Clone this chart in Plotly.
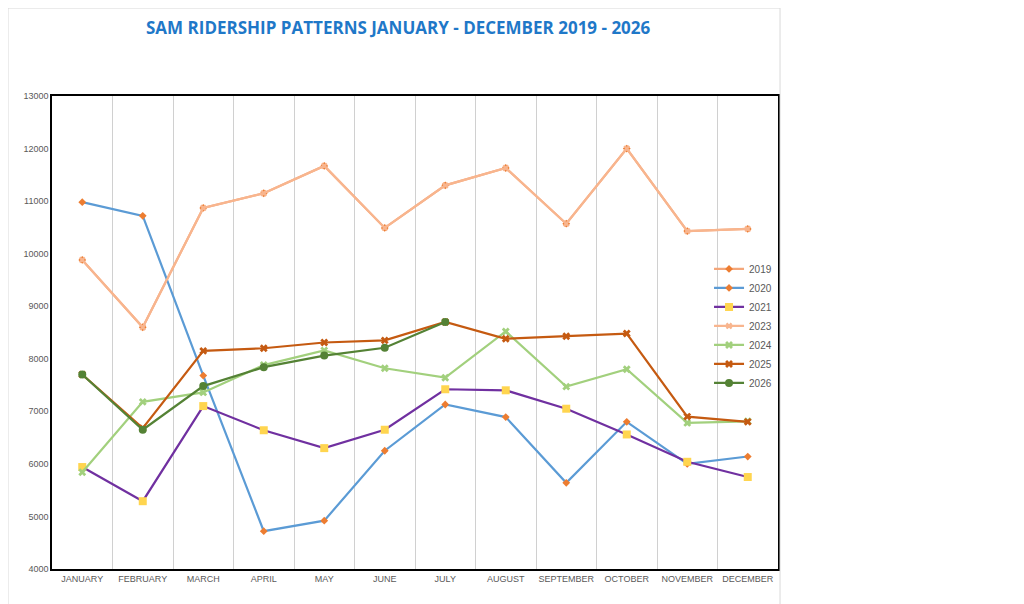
import plotly.graph_objects as go

months = ["JANUARY","FEBRUARY","MARCH","APRIL","MAY","JUNE","JULY","AUGUST","SEPTEMBER","OCTOBER","NOVEMBER","DECEMBER"]
y2019 = [9880, 8600, 10870, 11150, 11670, 10490, 11300, 11630, 10570, 12000, 10430, 10470]
y2020 = [10980, 10720, 7680, 4720, 4920, 6250, 7130, 6890, 5640, 6800, 6000, 6140]
y2021 = [5940, 5290, 7100, 6640, 6300, 6650, 7420, 7400, 7050, 6560, 6040, 5750]
y2023 = y2019
y2024 = [5840, 7180, 7360, 7880, 8160, 7820, 7640, 8520, 7470, 7800, 6780, 6810]
y2025 = [7700, 6680, 8150, 8200, 8310, 8350, 8700, 8380, 8430, 8480, 6900, 6800]
y2026 = [7700, 6650, 7480, 7840, 8060, 8210, 8700]

x = list(range(12))
series = [
    ("2019", y2019, "#F4A67A", "diamond", "#ED7D31", 6),
    ("2020", y2020, "#5B9BD5", "diamond", "#ED7D31", 6),
    ("2021", y2021, "#7030A0", "square", "#FFD54F", 8),
    ("2023", y2023, "#F8B58E", "x", "#F8B58E", 6),
    ("2024", y2024, "#A2D07D", "x", "#A2D07D", 7),
    ("2025", y2025, "#C55A11", "x", "#C55A11", 7),
    ("2026", y2026, "#548235", "circle", "#548235", 8),
]
fig = go.Figure()
for name, ys, lc, sym, mc, ms in series:
    fig.add_trace(go.Scatter(x=x[:len(ys)], y=ys, name=name, mode="lines+markers",
                             line=dict(color=lc, width=2.2),
                             marker=dict(symbol=sym, color=mc, size=ms)))

fig.update_layout(
    width=1024, height=604, paper_bgcolor="white", plot_bgcolor="white",
    margin=dict(l=44, r=254, t=88, b=43, autoexpand=False),
    title=dict(text="<b>SAM RIDERSHIP PATTERNS JANUARY - DECEMBER 2019 - 2026</b>",
               x=0.381, xanchor="center", y=0.967, yanchor="middle",
               font=dict(family="Open Sans", size=17, color="#1F78C8")),
    font=dict(family="Liberation Sans", color="#595959", size=9),
    legend=dict(x=0.905, y=0.665, xanchor="left", yanchor="top", bgcolor="rgba(0,0,0,0)",
                font=dict(size=10, color="#595959"), tracegroupgap=4, itemwidth=30),
    showlegend=True,
)
fig.update_xaxes(range=[-0.5, 11.5], tickvals=x, ticktext=months, showgrid=False,
                 showline=True, linecolor="black", linewidth=1.5, mirror=True,
                 tickfont=dict(size=9), zeroline=False, automargin=False,
                 minor=dict(tickvals=[i + 0.5 for i in range(11)], showgrid=True,
                            gridcolor="#D0D0D0", gridwidth=1, ticks=""))
fig.update_yaxes(range=[4000, 13000], dtick=1000, tickformat="d", showgrid=False, zeroline=False,
                 showline=True, linecolor="black", linewidth=1.5, mirror=True,
                 tickfont=dict(size=9), automargin=False)
fig.add_shape(type="rect", xref="paper", yref="paper", x0=-0.0606, x1=1.0028, y0=-0.0867, y1=1.186,
              line=dict(color="#D9D9D9", width=1))
fig.write_html("out.html")
